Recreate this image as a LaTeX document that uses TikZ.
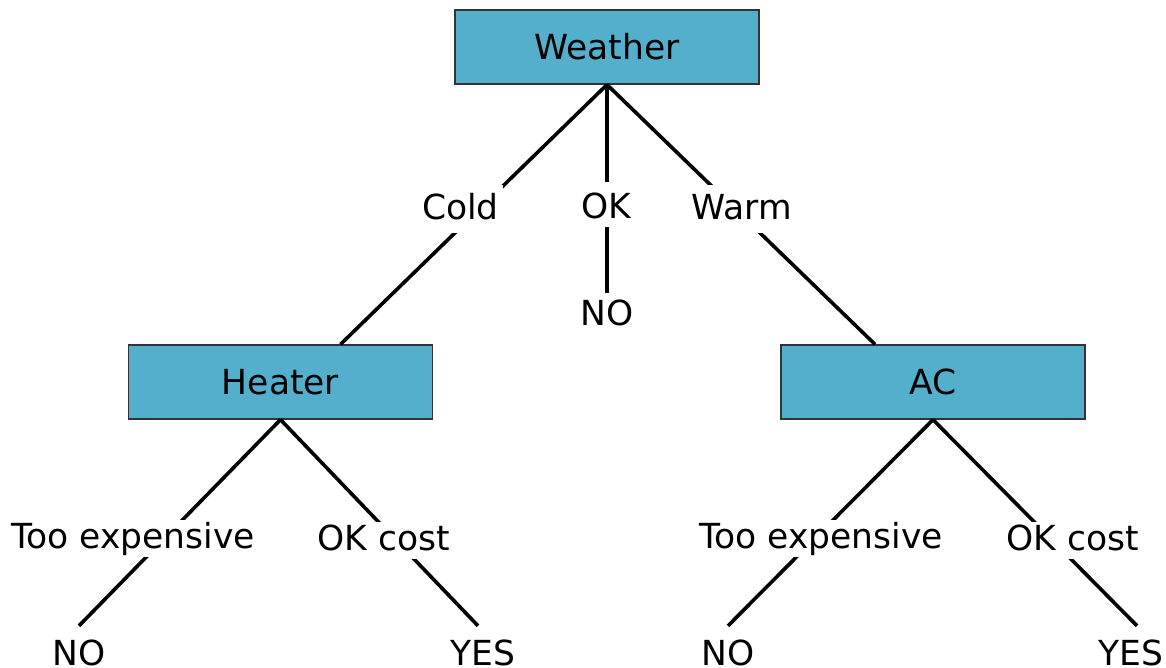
\documentclass[tikz,border=0pt]{standalone}
\usepackage{fontspec}
\setmainfont{DejaVu Sans}
\definecolor{boxblue}{RGB}{83,175,203}
\begin{document}
\begin{tikzpicture}[x=1pt,y=-1pt,
  txt/.style={font=\fontsize{34.5}{40}\selectfont},
  box/.style={txt, draw=black!80, line width=1.3pt, fill=boxblue,
    minimum width=304pt, minimum height=74pt, inner sep=0pt},
  edge/.style={line width=3.6pt, black},
  lblT/.style={txt, fill=white, anchor=base, inner xsep=4pt, inner ysep=0pt,
    text height=34pt, text depth=14pt},
  lblB/.style={txt, fill=white, anchor=base, inner xsep=4pt, inner ysep=0pt,
    text height=28pt, text depth=9pt},
  leaf/.style={txt, anchor=base, inner xsep=0pt, inner ysep=14pt,
    text height=25pt, text depth=0pt}
]
\useasboundingbox (0,0) rectangle (1166,667);

% decision boxes
\node[box] (weather) at (607,47) {Weather};
\node[box] (heater) at (280.5,382) {Heater};
\node[box] (ac) at (933,382) {AC};

% leaves
\node[leaf, inner ysep=7pt] (nomid) at (607,325) {NO};
\node[leaf] (noL) at (79,665) {NO};
\node[leaf] (yesL) at (483,665) {YES};
\node[leaf] (noR) at (728,665) {NO};
\node[leaf] (yesR) at (1131,665) {YES};

% connectors
\draw[edge] (weather.south) -- ([xshift=60pt]heater.north);
\draw[edge] (weather.south) -- (nomid.north);
\draw[edge] (weather.south) -- ([xshift=-58pt]ac.north);
\draw[edge] (heater.south) -- (noL.north);
\draw[edge] (heater.south) -- ([xshift=-5pt]yesL.north);
\draw[edge] (ac.south) -- (noR.north);
\draw[edge] (ac.south) -- ([xshift=6pt]yesR.north);

% edge labels
\node[lblT] (cold) at (460.5,219) {Cold};
\node[lblT, text height=36pt, text depth=9pt] (ok) at (606.5,218) {OK};
\node[lblT] (warm) at (742,219) {Warm};
\node[lblB] (teL) at (133,548) {Too expensive};
\node[lblB] (okcL) at (384,550) {OK cost};
\node[lblB] (teR) at (821,548) {Too expensive};
\node[lblB] (okcR) at (1072.5,550) {OK cost};
\end{tikzpicture}
\end{document}
